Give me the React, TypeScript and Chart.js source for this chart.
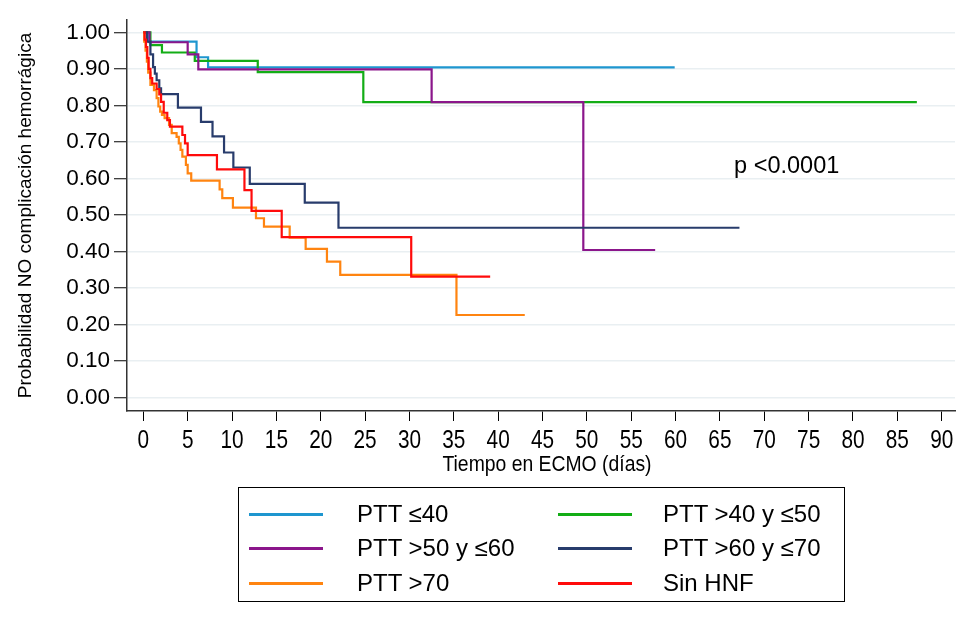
import React, { useEffect, useRef } from "react";
import { Chart, registerables } from "chart.js";

Chart.register(...registerables);

// ---- data ----
const xTicks = [0, 5, 10, 15, 20, 25, 30, 35, 40, 45, 50, 55, 60, 65, 70, 75, 80, 85, 90];
const yTicks = [0, 0.1, 0.2, 0.3, 0.4, 0.5, 0.6, 0.7, 0.8, 0.9, 1.0];

const seriesNames = ["PTT ≤40", "PTT >40 y ≤50", "PTT >50 y ≤60", "PTT >60 y ≤70", "PTT >70", "Sin HNF"];
const seriesColors = ["#1e96cf", "#13ad16", "#8b168b", "#283c6c", "#ff8410", "#ff0b0b"];

const ptt40Time = [0, 0.6, 6.0, 7.3, 59.9];
const ptt40Surv = [1, 0.975, 0.932, 0.904, 0.904];

const ptt40_50Time = [0, 0.8, 2.1, 5.8, 12.9, 24.8, 87.2];
const ptt40_50Surv = [1, 0.965, 0.945, 0.922, 0.891, 0.809, 0.809];

const ptt50_60Time = [0, 0.7, 5.0, 6.2, 32.5, 49.6, 57.7];
const ptt50_60Surv = [1, 0.973, 0.94, 0.899, 0.809, 0.404, 0.404];

const ptt60_70Time = [0, 0.4, 0.8, 1.1, 1.3, 1.5, 1.8, 2.0, 3.9, 6.5, 7.8, 9.1, 10.15, 12.0, 18.2, 22.0, 67.2];
const ptt60_70Surv = [1, 0.975, 0.94, 0.905, 0.887, 0.869, 0.847, 0.831, 0.794, 0.755, 0.715, 0.671, 0.63, 0.585, 0.534, 0.465, 0.465];

const ptt70Time = [0, 0.1, 0.25, 0.4, 0.55, 0.8, 1.2, 1.5, 1.7, 1.9, 2.1, 2.4, 2.9, 3.2, 3.75, 4.0, 4.2, 4.4, 4.8, 5.0, 5.4, 8.6, 8.9, 10.1, 12.7, 13.6, 16.5, 18.3, 20.7, 22.2, 35.3, 43.0];
const ptt70Surv = [1, 0.975, 0.95, 0.92, 0.89, 0.856, 0.842, 0.82, 0.797, 0.783, 0.774, 0.765, 0.747, 0.724, 0.714, 0.696, 0.678, 0.66, 0.637, 0.614, 0.594, 0.57, 0.546, 0.52, 0.491, 0.468, 0.438, 0.407, 0.372, 0.336, 0.226, 0.226];

const sinHnfTime = [0, 0.15, 0.3, 0.45, 0.6, 0.8, 1.0, 1.5, 1.8, 2.0, 2.3, 2.7, 3.0, 4.4, 4.7, 5.0, 8.3, 11.4, 12.2, 15.6, 30.2, 39.1];
const sinHnfSurv = [1, 0.98, 0.96, 0.93, 0.9, 0.875, 0.86, 0.845, 0.83, 0.81, 0.78, 0.76, 0.742, 0.719, 0.696, 0.664, 0.625, 0.568, 0.511, 0.439, 0.331, 0.331];

const seriesTimes = [ptt40Time, ptt40_50Time, ptt50_60Time, ptt60_70Time, ptt70Time, sinHnfTime];
const seriesSurv = [ptt40Surv, ptt40_50Surv, ptt50_60Surv, ptt60_70Surv, ptt70Surv, sinHnfSurv];
const drawOrder = [5, 4, 3, 2, 1, 0];

const pValueText = "p <0.0001";
const pValueAt = [66.6, 0.634];

const xTitle = "Tiempo en ECMO (días)";
const yTitle = "Probabilidad NO complicación hemorrágica";

const SANS = '"Liberation Sans", Arial, Helvetica, sans-serif';

// draws the condensed x tick labels, x title and the p-value note as canvas text
const textPlugin = {
  id: "textPlugin",
  afterDraw(chart: any) {
    const { ctx, scales, chartArea } = chart;
    const xs = scales.x;
    ctx.save();
    ctx.fillStyle = "#000";
    ctx.textAlign = "center";
    ctx.textBaseline = "middle";
    ctx.font = `26px ${SANS}`;
    const labelY = chartArea.bottom + 30;
    xTicks.forEach((v) => {
      ctx.save();
      ctx.translate(xs.getPixelForValue(v), labelY);
      ctx.scale(0.8, 1);
      ctx.fillText(String(v), 0, 0);
      ctx.restore();
    });
    ctx.font = `22px ${SANS}`;
    ctx.save();
    ctx.translate((chartArea.left + chartArea.right) / 2 + 6, chartArea.bottom + 54);
    ctx.scale(0.88, 1);
    ctx.fillText(xTitle, 0, 0);
    ctx.restore();

    ctx.textAlign = "left";
    ctx.font = `23.5px ${SANS}`;
    ctx.fillText(pValueText, scales.x.getPixelForValue(pValueAt[0]), scales.y.getPixelForValue(pValueAt[1]));
    ctx.restore();
  },
};

export default function App() {
  const canvasRef = useRef<HTMLCanvasElement | null>(null);

  useEffect(() => {
    if (!canvasRef.current) return;
    const datasets = seriesNames.map((name, i) => ({
      label: name,
      data: seriesTimes[i].map((t, k) => ({ x: t, y: seriesSurv[i][k] })),
      borderColor: seriesColors[i],
      backgroundColor: seriesColors[i],
      borderWidth: 2.2,
      pointRadius: 0,
      stepped: "before" as const,
      fill: false,
      order: drawOrder[i],
    }));

    const chart = new Chart(canvasRef.current, {
      type: "line",
      data: { datasets },
      options: {
        animation: false,
        responsive: false,
        devicePixelRatio: 1,
        layout: { padding: { top: 20, right: 2, left: 0, bottom: 158 } },
        plugins: { legend: { display: false }, tooltip: { enabled: false } },
        scales: {
          x: {
            type: "linear",
            min: -1.84,
            max: 91.5,
            afterFit: (s: any) => {
              s.height = 64;
            },
            afterBuildTicks: (s: any) => {
              s.ticks = xTicks.map((v) => ({ value: v }));
            },
            grid: {
              drawOnChartArea: false,
              drawTicks: true,
              tickLength: 10,
              tickColor: "#000",
              tickWidth: 1,
            },
            border: { display: true, color: "#333", width: 1.5 },
            ticks: { display: false, autoSkip: false, maxRotation: 0 },
            title: { display: false, text: xTitle },
          },
          y: {
            type: "linear",
            min: -0.037,
            max: 1.034,
            afterFit: (s: any) => {
              s.width = 127;
            },
            afterBuildTicks: (s: any) => {
              s.ticks = yTicks.map((v) => ({ value: v }));
            },
            grid: {
              drawOnChartArea: true,
              color: "#e9eff2",
              lineWidth: 1.5,
              drawTicks: true,
              tickLength: 13,
              tickColor: "#000",
              tickWidth: 1,
            },
            border: { display: true, color: "#333", width: 1.5 },
            ticks: {
              padding: 4,
              color: "#000",
              font: { family: SANS, size: 22.5 },
              callback: (v: any) => Number(v).toFixed(2),
            },
            title: {
              display: true,
              text: yTitle,
              color: "#000",
              font: { family: SANS, size: 19 },
              padding: { top: 14, bottom: 0 },
            },
          },
        },
      },
      plugins: [textPlugin],
    });
    return () => chart.destroy();
  }, []);

  const rows = [
    [0, 1],
    [2, 3],
    [4, 5],
  ];
  const rowY = [514, 548, 583];
  const colLineX = [249, 558];
  const colTextX = [357, 663];

  return (
    <div style={{ position: "absolute", left: 0, top: 0, width: 957, height: 633, background: "#fff", overflow: "hidden" }}>
      <canvas ref={canvasRef} width={957} height={633} style={{ position: "absolute", left: 0, top: 0, width: 957, height: 633 }} />
      <div
        style={{
          position: "absolute",
          left: 238,
          top: 487,
          width: 607,
          height: 115,
          border: "1px solid #000",
          boxSizing: "border-box",
        }}
      />
      {rows.map((r, ri) =>
        r.map((si, ci) => (
          <React.Fragment key={si}>
            <div
              style={{
                position: "absolute",
                left: colLineX[ci],
                top: rowY[ri] - 1.5,
                width: 74,
                height: 3,
                background: seriesColors[si],
              }}
            />
            <div
              style={{
                position: "absolute",
                left: colTextX[ci],
                top: rowY[ri] - 14,
                height: 28,
                lineHeight: "28px",
                fontFamily: SANS,
                fontSize: 24,
                color: "#000",
                whiteSpace: "nowrap",
              }}
            >
              {seriesNames[si]}
            </div>
          </React.Fragment>
        ))
      )}
    </div>
  );
}
